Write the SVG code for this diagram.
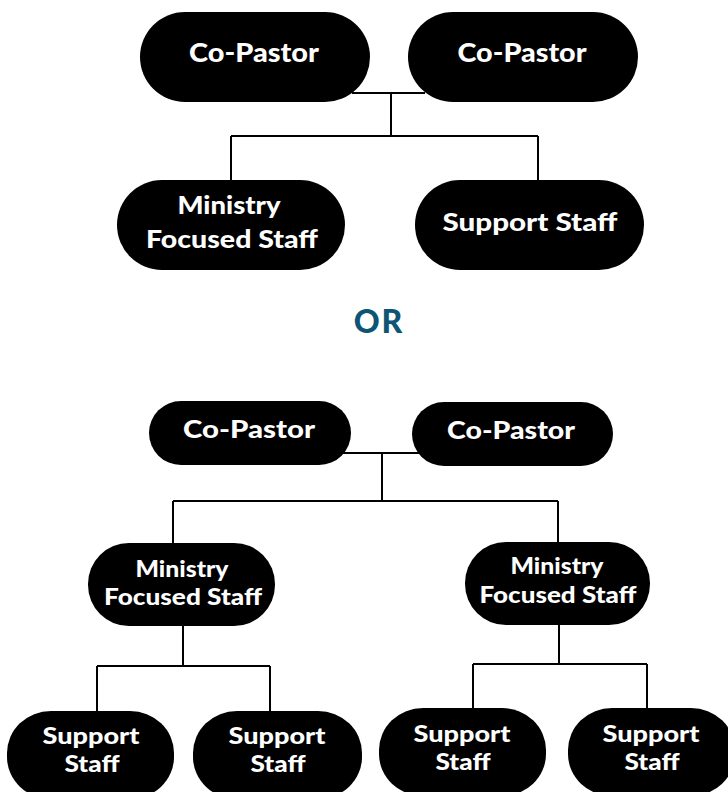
<svg xmlns="http://www.w3.org/2000/svg" width="728" height="792" viewBox="0 0 728 792">
  <style>
    .pill { fill: #000000; }
    .label { fill: #ffffff; font-family: Lato, "Open Sans", "Liberation Sans", sans-serif; font-weight: 900; text-anchor: middle; }
    .big { font-size: 26px; }
    .mid { font-size: 25px; }
    .small { font-size: 23px; }
    .wire { fill: none; stroke: #000000; stroke-width: 2; }
    .or { fill: #0e5474; font-family: Lato, "Open Sans", "Liberation Sans", sans-serif; font-weight: 900; font-size: 32px; text-anchor: middle; letter-spacing: 2px; }
  </style>
  <rect width="728" height="792" fill="#ffffff"/>

  <!-- connectors -->
  <g id="connectors">
    <!-- first chart -->
    <path class="wire" d="M352 93 H425 M391 93 V136 M231 136 H538 M231 136 V182 M538 136 V182"/>
    <!-- second chart -->
    <path class="wire" d="M343 453 H419 M382 453 V501 M173 501 H558 M173 501 V544 M558 501 V543"/>
    <path class="wire" d="M183 626 V666 M97 666 H270 M97 666 V712 M270 666 V712"/>
    <path class="wire" d="M559 625 V664 M473 664 H647 M473 664 V709 M647 664 V709"/>
  </g>

  <!-- first chart -->
  <g id="co-pastor-a1">
    <rect class="pill" x="140" y="12" width="230" height="90" rx="45"/>
    <text class="label big" x="254" y="62" textLength="130" lengthAdjust="spacingAndGlyphs">Co-Pastor</text>
  </g>
  <g id="co-pastor-a2">
    <rect class="pill" x="408" y="12" width="230" height="90" rx="45"/>
    <text class="label big" x="522" y="62" textLength="129" lengthAdjust="spacingAndGlyphs">Co-Pastor</text>
  </g>
  <g id="ministry-a">
    <rect class="pill" x="117" y="180" width="228" height="90" rx="45"/>
    <text class="label mid" x="229" y="214" textLength="103" lengthAdjust="spacingAndGlyphs">Ministry</text>
    <text class="label mid" x="232" y="248" textLength="172" lengthAdjust="spacingAndGlyphs">Focused Staff</text>
  </g>
  <g id="support-a">
    <rect class="pill" x="415" y="180" width="229" height="90" rx="45"/>
    <text class="label mid" x="530" y="231" textLength="175" lengthAdjust="spacingAndGlyphs">Support Staff</text>
  </g>

  <text class="or" x="379" y="333">OR</text>

  <!-- second chart -->
  <g id="co-pastor-b1">
    <rect class="pill" x="149" y="401" width="202" height="64" rx="32"/>
    <text class="label mid" x="249" y="438" textLength="132" lengthAdjust="spacingAndGlyphs">Co-Pastor</text>
  </g>
  <g id="co-pastor-b2">
    <rect class="pill" x="412" y="402" width="201" height="64" rx="32"/>
    <text class="label mid" x="511" y="439" textLength="128" lengthAdjust="spacingAndGlyphs">Co-Pastor</text>
  </g>
  <g id="ministry-b1">
    <rect class="pill" x="88" y="543" width="187" height="83" rx="41"/>
    <text class="label small" x="182" y="577" textLength="93" lengthAdjust="spacingAndGlyphs">Ministry</text>
    <text class="label small" x="183" y="605" textLength="158" lengthAdjust="spacingAndGlyphs">Focused Staff</text>
  </g>
  <g id="ministry-b2">
    <rect class="pill" x="465" y="542" width="185" height="83" rx="41"/>
    <text class="label small" x="557" y="574" textLength="93" lengthAdjust="spacingAndGlyphs">Ministry</text>
    <text class="label small" x="558" y="603" textLength="157" lengthAdjust="spacingAndGlyphs">Focused Staff</text>
  </g>
  <g id="support-b1">
    <rect class="pill" x="7" y="711" width="167" height="88" rx="44" ry="42"/>
    <text class="label small" x="91" y="744" textLength="97" lengthAdjust="spacingAndGlyphs">Support</text>
    <text class="label small" x="92" y="772" textLength="55" lengthAdjust="spacingAndGlyphs">Staff</text>
  </g>
  <g id="support-b2">
    <rect class="pill" x="193" y="711" width="169" height="88" rx="44" ry="42"/>
    <text class="label small" x="277" y="744" textLength="97" lengthAdjust="spacingAndGlyphs">Support</text>
    <text class="label small" x="278" y="772" textLength="55" lengthAdjust="spacingAndGlyphs">Staff</text>
  </g>
  <g id="support-b3">
    <rect class="pill" x="379" y="708" width="167" height="88" rx="44" ry="42"/>
    <text class="label small" x="462" y="742" textLength="97" lengthAdjust="spacingAndGlyphs">Support</text>
    <text class="label small" x="463" y="770" textLength="55" lengthAdjust="spacingAndGlyphs">Staff</text>
  </g>
  <g id="support-b4">
    <rect class="pill" x="568" y="708" width="167" height="88" rx="44" ry="42"/>
    <text class="label small" x="651" y="742" textLength="97" lengthAdjust="spacingAndGlyphs">Support</text>
    <text class="label small" x="652" y="770" textLength="55" lengthAdjust="spacingAndGlyphs">Staff</text>
  </g>
</svg>
